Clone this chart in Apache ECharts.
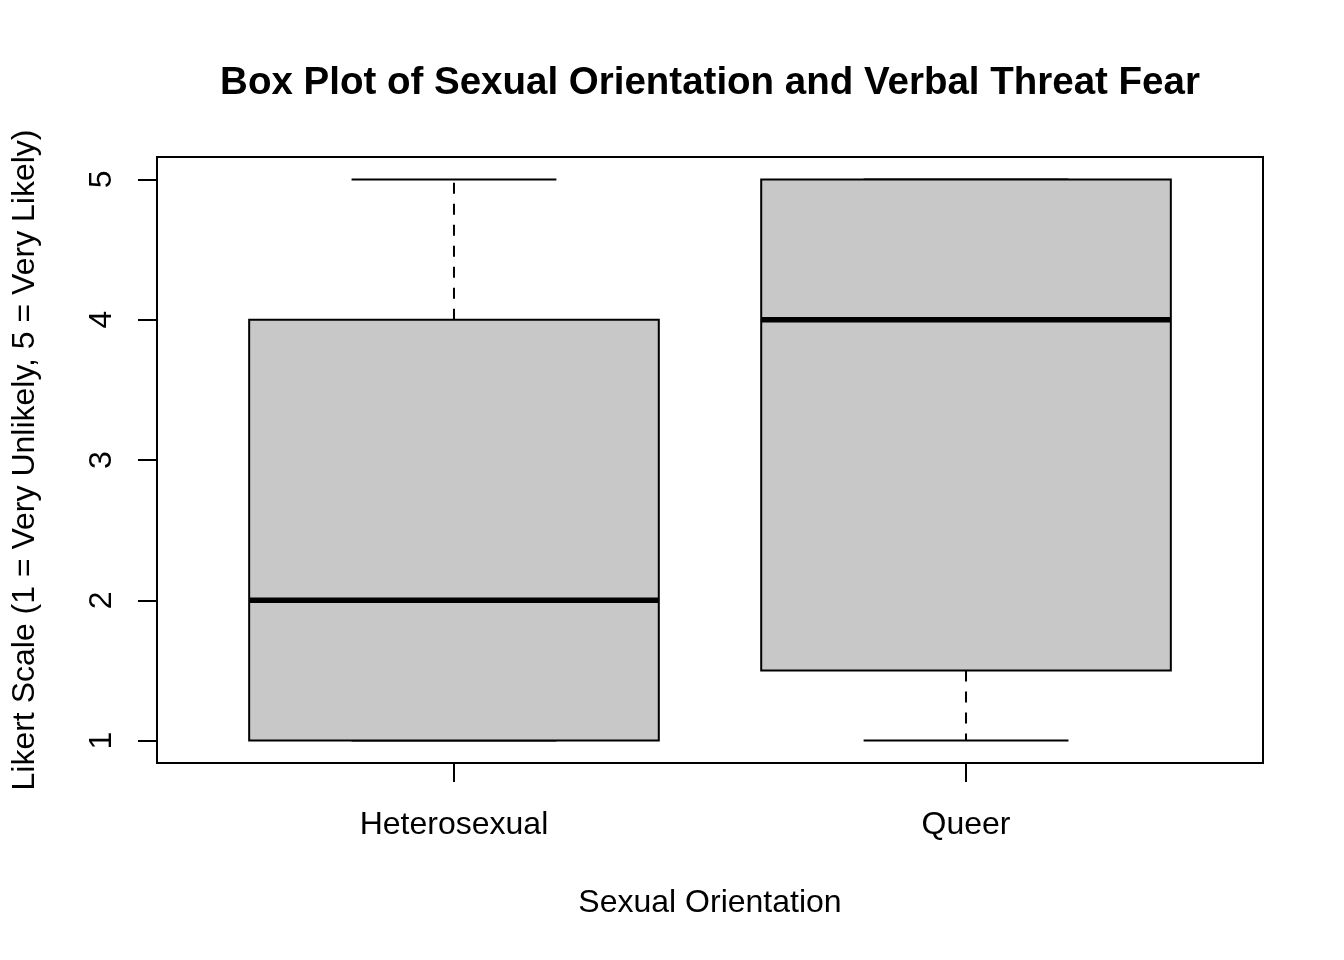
<!DOCTYPE html>
<html>
<head>
<meta charset="utf-8">
<script src="https://cdn.jsdelivr.net/npm/echarts@6/dist/echarts.min.js"></script>
<style>
html,body{margin:0;padding:0;background:#fff;}
#chart{width:1344px;height:960px;}
</style>
</head>
<body>
<div id="chart"></div>
<script>
// Data
const categories = ['Heterosexual', 'Queer'];
const mins    = [1, 1];
const q1s     = [1, 1.5];
const medians = [2, 4];
const q3s     = [4, 5];
const maxs    = [5, 5];
const yTicks  = [1, 2, 3, 4, 5];

const titleText = 'Box Plot of Sexual Orientation and Verbal Threat Fear';
const xTitle = 'Sexual Orientation';
const yTitle = 'Likert Scale (1 = Very Unlikely, 5 = Very Likely)';

const FONT = '"Liberation Sans", Arial, Helvetica, sans-serif';

const boxData = categories.map((c, i) => [i + 1, mins[i], q1s[i], medians[i], q3s[i], maxs[i]]);

const chart = echarts.init(document.getElementById('chart'), null, {renderer: 'canvas'});

function renderItem(params, api) {
  const x = api.value(0);
  const pMin = api.coord([x, api.value(1)]);
  const pQ1 = api.coord([x, api.value(2)]);
  const pMed = api.coord([x, api.value(3)]);
  const pQ3 = api.coord([x, api.value(4)]);
  const pMax = api.coord([x, api.value(5)]);
  const boxW = api.size([0.8, 0])[0];
  const capW = api.size([0.4, 0])[0];
  const cx = pMed[0];
  const children = [];
  const dash = {stroke: '#000', lineWidth: 2, lineDash: [11, 10]};
  const solid = {stroke: '#000', lineWidth: 2};
  // whiskers
  if (pQ3[1] !== pMax[1]) {
    children.push({type: 'line', shape: {x1: cx, y1: pQ3[1], x2: cx, y2: pMax[1]}, style: dash});
  }
  if (pQ1[1] !== pMin[1]) {
    children.push({type: 'line', shape: {x1: cx, y1: pQ1[1], x2: cx, y2: pMin[1]}, style: dash});
  }
  // caps
  children.push({type: 'line', shape: {x1: cx - capW / 2, y1: pMax[1], x2: cx + capW / 2, y2: pMax[1]}, style: solid});
  children.push({type: 'line', shape: {x1: cx - capW / 2, y1: pMin[1], x2: cx + capW / 2, y2: pMin[1]}, style: solid});
  // box
  children.push({type: 'rect', shape: {x: cx - boxW / 2, y: pQ3[1], width: boxW, height: pQ1[1] - pQ3[1]},
    style: {fill: '#c8c8c8', stroke: '#000', lineWidth: 2}});
  // median
  children.push({type: 'line', shape: {x1: cx - boxW / 2, y1: pMed[1], x2: cx + boxW / 2, y2: pMed[1]},
    style: {stroke: '#000', lineWidth: 5.5}});
  return {type: 'group', children: children};
}

const option = {
  backgroundColor: '#fff',
  animation: false,
  title: {
    text: titleText,
    left: 705,
    top: 59,
    textAlign: 'center',
    textStyle: {fontFamily: FONT, fontSize: 38.5, fontWeight: 'bold', color: '#000'}
  },
  grid: {
    left: 157, right: 81, top: 157, bottom: 197,
    show: true, borderColor: '#000', borderWidth: 2, backgroundColor: 'transparent'
  },
  xAxis: {
    type: 'value',
    min: 0.42, max: 2.58,
    splitLine: {show: false},
    axisLine: {show: false},
    axisTick: {show: true, length: 19, lineStyle: {color: '#000', width: 2}, customValues: [1, 2]},
    axisLabel: {
      customValues: [1, 2],
      formatter: v => categories[Math.round(v) - 1] || '',
      fontFamily: FONT, fontSize: 32, color: '#000', margin: 46
    },
    name: xTitle,
    nameLocation: 'middle',
    nameGap: 124,
    nameTextStyle: {fontFamily: FONT, fontSize: 32, color: '#000'}
  },
  yAxis: {
    type: 'value',
    min: 0.84, max: 5.16,
    splitLine: {show: false},
    axisLine: {show: false},
    axisTick: {show: true, length: 19, lineStyle: {color: '#000', width: 2}, customValues: yTicks},
    axisLabel: {
      customValues: yTicks,
      rotate: 90,
      fontFamily: FONT, fontSize: 32, color: '#000', margin: 39
    },
    name: yTitle,
    nameLocation: 'middle',
    nameRotate: 90,
    nameGap: 116,
    nameTextStyle: {fontFamily: FONT, fontSize: 32, color: '#000'}
  },
  series: [{
    type: 'custom',
    renderItem: renderItem,
    data: boxData,
    encode: {x: 0, y: [1, 2, 3, 4, 5]},
    clip: false
  }]
};

chart.setOption(option);
</script>
</body>
</html>
